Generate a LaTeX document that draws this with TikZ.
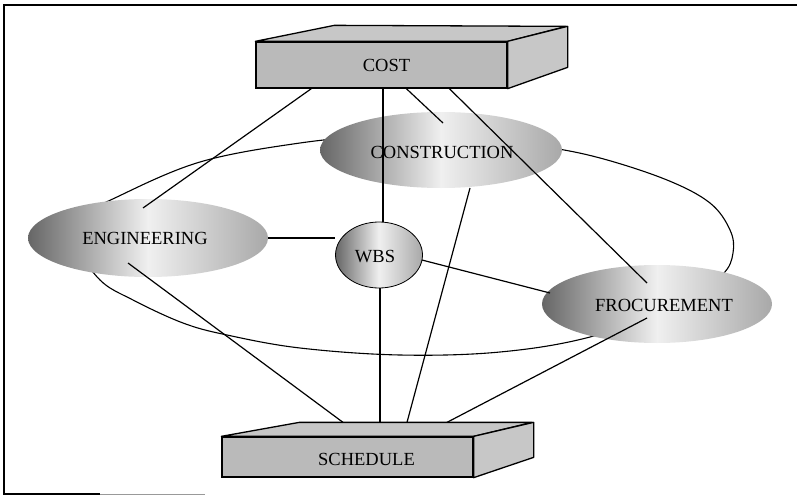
\documentclass[tikz,border=0pt]{standalone}
\usepackage{fontspec}
\setmainfont{Liberation Serif}
\usetikzlibrary{shapes.geometric, calc}

\begin{document}
\begin{tikzpicture}[x=1pt, y=-1pt,
    box/.style={draw, line width=1.3pt, fill=black!27, minimum width=251pt, inner sep=0pt},
    boxside/.style={draw, line width=1.3pt, fill=black!22, line join=round},
    bubble/.style={ellipse, inner sep=0pt, left color=black!60, right color=black!34, middle color=black!6},
    link/.style={line width=1.2pt},
    ring/.style={line width=1.1pt},
    lbl/.style={font=\fontsize{18.5}{20}\selectfont}
]
\useasboundingbox (0,0) rectangle (797,495);

% Frame
\draw[line width=1.3pt] (797,5) -- (4,5) -- (4,494) -- (100,494);
\draw[line width=1pt, black!40] (100,494) -- (205,494);

% Outer ring (behind the bubbles)
\draw[ring] plot[smooth cycle, tension=0.6] coordinates {
    (300,143) (380,136) (460,136) (540,146) (600,158) (667,180) (710,203)
    (730,230) (733,253) (722,275) (680,305) (590,337) (500,352) (400,355)
    (300,348) (227,335) (183,323) (133,300) (100,280) (78,245) (88,215)
    (117,197) (200,162)};

% COST
\node[box, minimum height=46pt] (cost) at (381.5,65) {};
\draw[boxside] (cost.north west) -- ++(79,-16) -- ++(232,1) -- (cost.north east) -- cycle;
\draw[boxside] (cost.north east) -- ++(60,-15) -- ++(0,41) -- (cost.south east) -- cycle;
\node[lbl] at ([shift={(5,0)}]cost.center) {COST};

% SCHEDULE
\node[box, minimum height=40pt] (sched) at (347.5,457) {};
\draw[boxside] (sched.north west) -- ++(78,-14) -- ++(233,0) -- (sched.north east) -- cycle;
\draw[boxside] (sched.north east) -- ++(60,-14) -- ++(0,35) -- (sched.south east) -- cycle;
\node[lbl] at ([shift={(19,2)}]sched.center) {SCHEDULE};
\coordinate (schedtop) at ([shift={(0,-14)}]sched.north);

% Bubbles
\node[bubble, minimum width=242pt, minimum height=76pt] (constr) at (441,150) {};
\node[lbl] at ([shift={(1,2)}]constr.center) {CONSTRUCTION};
\node[bubble, minimum width=240pt, minimum height=78pt] (eng) at (148,238) {};
\node[lbl] at ([shift={(-3,0)}]eng.center) {ENGINEERING};
\node[bubble, minimum width=230pt, minimum height=78pt] (froc) at (657,304) {};
\node[lbl] at ([shift={(7,1)}]froc.center) {FROCUREMENT};
\node[bubble, draw, line width=0.8pt, minimum width=87pt, minimum height=66pt] (wbs) at (379,255) {};
\node[lbl] at ([shift={(-4,2)}]wbs.center) {WBS};

% Links from COST
\draw[link] ([shift={(56,0)}]cost.south west) -- ([shift={(-5,-30)}]eng.center);
\draw[link] ([xshift=4pt]wbs.north) -- ([xshift=4pt]wbs.north |- cost.south);
\draw[link] ([shift={(151,0)}]cost.south west) -- ([shift={(2,-27)}]constr.center);
\draw[link] ([shift={(194,0)}]cost.south west) -- ([shift={(-10,-21)}]froc.center);

% Links around WBS
\draw[link] (eng.east) -- (eng.east -| wbs.west);
\draw[link] ([shift={(-1,5)}]wbs.east) -- ([shift={(-107,-11)}]froc.center);

% Links to SCHEDULE
\draw[link] ([xshift=1pt]wbs.south) -- ([xshift=1pt]wbs.south |- schedtop);
\draw[link] ([shift={(-20,25)}]eng.center) -- ([shift={(-4.5,0)}]schedtop);
\draw[link] ([shift={(29,38)}]constr.center) -- ([shift={(59.5,0)}]schedtop);
\draw[link] ([shift={(-10,14)}]froc.center) -- ([shift={(99.5,0)}]schedtop);
\end{tikzpicture}
\end{document}
